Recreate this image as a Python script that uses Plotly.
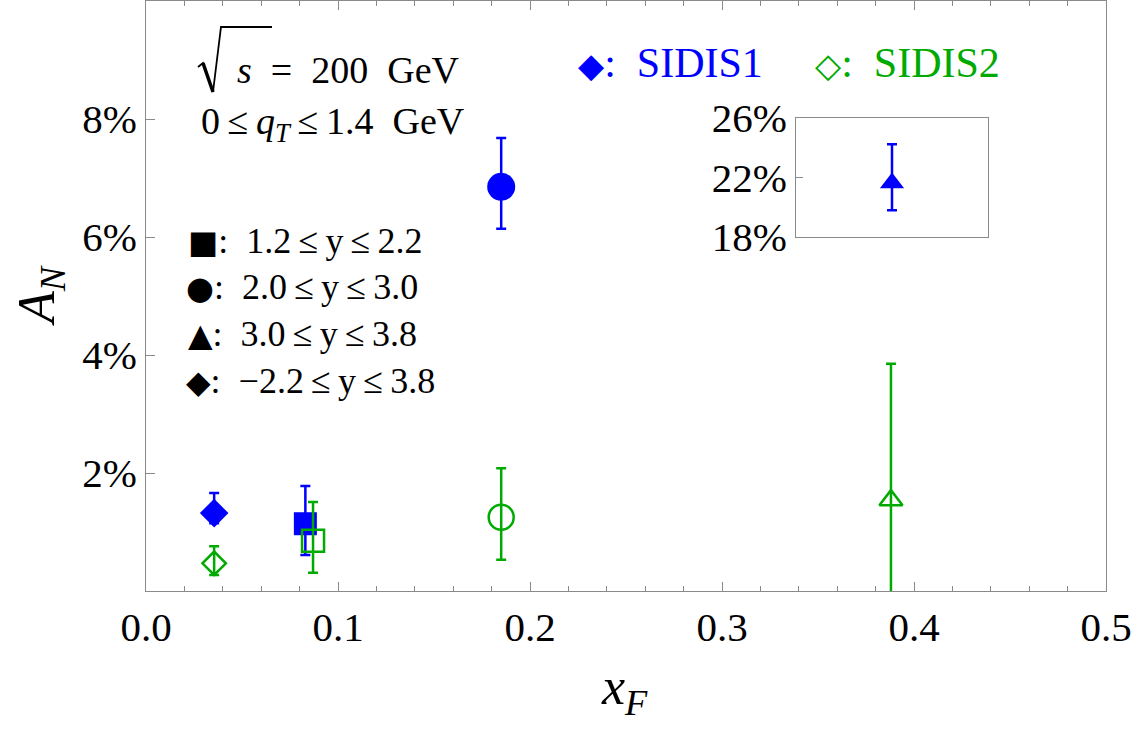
import plotly.graph_objects as go

# ---- data (A_N in %) ----
sidis1_x = [0.0355, 0.083, 0.185]
sidis1_y = [1.32, 1.14, 6.85]
sidis1_err_plus = [0.34, 0.64, 0.83]
sidis1_err_minus = [0.17, 0.53, 0.71]
sidis1_symbols = ["diamond", "square", "circle"]
sidis1_sizes = [22, 23, 28]

sidis2_x = [0.0355, 0.087, 0.185, 0.388]
sidis2_y = [0.47, 0.85, 1.25, 1.54]
sidis2_err_plus = [0.29, 0.66, 0.83, 2.31]
sidis2_err_minus = [0.20, 0.54, 0.72, 2.31]
sidis2_symbols = ["diamond-open", "square-open", "circle-open", "triangle-up-open"]
sidis2_sizes = [18, 22, 25, 20]

inset_x = [0.388]
inset_y = [21.63]
inset_err_plus = [2.6]
inset_err_minus = [1.83]

main_yticks = [2, 4, 6, 8]
inset_yticks = [18, 22, 26]
main_xticks = [0, 0.1, 0.2, 0.3, 0.4, 0.5]

BLUE = "#0000FF"
GREEN = "#00AA00"
AXC = "#8a8a8a"
FONT = "Liberation Serif"

fig = go.Figure()

fig.add_trace(go.Scatter(
    x=sidis1_x, y=sidis1_y, mode="markers",
    marker=dict(symbol=sidis1_symbols, size=sidis1_sizes, color=BLUE, opacity=1, line=dict(width=0)),
    error_y=dict(type="data", array=sidis1_err_plus, arrayminus=sidis1_err_minus,
                 color=BLUE, thickness=2.5, width=5),
    showlegend=False))

fig.add_trace(go.Scatter(
    x=sidis2_x, y=sidis2_y, mode="markers",
    marker=dict(symbol=sidis2_symbols, size=sidis2_sizes, color=GREEN, opacity=1,
                line=dict(width=2.5, color=GREEN)),
    error_y=dict(type="data", array=sidis2_err_plus, arrayminus=sidis2_err_minus,
                 color=GREEN, thickness=2.5, width=5),
    showlegend=False))

fig.add_trace(go.Scatter(
    x=inset_x, y=inset_y, mode="markers", xaxis="x2", yaxis="y2",
    marker=dict(symbol="triangle-up", size=21, color=BLUE, opacity=1),
    error_y=dict(type="data", array=inset_err_plus, arrayminus=inset_err_minus,
                 color=BLUE, thickness=2.5, width=5),
    showlegend=False))

L, R, T, B = 146, 28, 1, 139
W, H = 1134, 730
PW, PH = W - L - R, H - T - B


def px(x):
    return (x - L) / PW


def py(y):
    return (H - B - y) / PH


fig.update_layout(
    width=W, height=H,
    margin=dict(l=L, r=R, t=T, b=B, autoexpand=False),
    paper_bgcolor="white", plot_bgcolor="white",
    font=dict(family=FONT, color="black", size=41),
    xaxis=dict(range=[0, 0.5], tickvals=main_xticks, ticktext=[f"{v:.1f}" for v in main_xticks],
               ticks="inside", ticklen=9, tickcolor=AXC, tickwidth=1,
               minor=dict(dtick=0.02, ticks="inside", ticklen=5, tickcolor=AXC, tickwidth=1),
               showline=True, linecolor=AXC, linewidth=1, mirror="ticks", automargin=False,
               showgrid=False, zeroline=False, tickfont=dict(size=41, family=FONT)),
    yaxis=dict(range=[0, 10], tickvals=main_yticks, ticktext=[f"{v}%" for v in main_yticks],
               ticks="inside", ticklen=9, tickcolor=AXC, tickwidth=1, automargin=False,
               showline=True, linecolor=AXC, linewidth=1, mirror=True,
               showgrid=False, zeroline=False, tickfont=dict(size=41, family=FONT)),
    xaxis2=dict(domain=[px(796), px(988)], anchor="y2", range=[0.288, 0.488], automargin=False,
                showticklabels=False, ticks="", showline=True, linecolor=AXC, linewidth=1,
                mirror=True, showgrid=False, zeroline=False),
    yaxis2=dict(domain=[py(237), py(118)], anchor="x2", range=[18, 26], automargin=False,
                tickvals=inset_yticks, ticktext=[f"{v}%" for v in inset_yticks],
                ticks="inside", ticklen=7, tickcolor=AXC,
                showline=True, linecolor=AXC, linewidth=1, mirror=True,
                showgrid=False, zeroline=False, tickfont=dict(size=41, family=FONT)),
)

ann = []


def add_text(text, x, y, size=37, color="black", xanchor="left", yanchor="middle", angle=0):
    ann.append(dict(text=text, x=px(x), y=py(y), xref="paper", yref="paper", showarrow=False,
                    xanchor=xanchor, yanchor=yanchor, textangle=angle,
                    font=dict(family=FONT, size=size, color=color)))


def sym(ch, size):
    return f"<span style='font-family:DejaVu Sans;font-size:{size}px'>{ch}</span>"


TS = "\u2009"  # thin space
# sqrt(s) = 200 GeV  (radical drawn as a path below)
add_text("<i>s</i>  =  200  GeV", 235, 70, size=38)
add_text(f"0{TS}≤{TS}<i>q</i><sub><i>T</i></sub>{TS}≤{TS}1.4  GeV", 199, 124, size=38)

add_text(f"{sym('■', 32)}:  1.2{TS}≤{TS}y{TS}≤{TS}2.2", 186, 241, size=36)
add_text(f"{sym('●', 32)}:  2.0{TS}≤{TS}y{TS}≤{TS}3.0", 184, 287, size=36)
add_text(f"{sym('▲', 32)}:  3.0{TS}≤{TS}y{TS}≤{TS}3.8", 186, 334, size=36)
add_text(f"{sym('◆', 32)}:  −2.2{TS}≤{TS}y{TS}≤{TS}3.8", 184, 381, size=36)

add_text(f"{sym('◆', 34)}:  SIDIS1", 576, 63, size=42, color=BLUE)
add_text(f"{sym('◇', 34)}:  SIDIS2", 813, 63, size=42, color=GREEN)

# axis titles
add_text("<i>A</i><sub><i>N</i></sub>", 40, 296, size=52, xanchor="center", angle=-90)
add_text("<i>x</i><sub><i>F</i></sub>", 624, 690, size=52, xanchor="center")

fig.update_layout(annotations=ann)


def path(points):
    return "M " + " L ".join(f"{px(a):.5f},{py(b):.5f}" for a, b in points)


# radical sign of sqrt(s)
fig.add_shape(type="path", xref="paper", yref="paper",
              path=path([(198, 67), (203, 63), (213, 92), (221, 27), (272, 27)]),
              line=dict(color="black", width=1.8))
fig.add_shape(type="path", xref="paper", yref="paper",
              path=path([(203, 63), (213, 92)]),
              line=dict(color="black", width=3.5))

fig.write_html("out.html")
